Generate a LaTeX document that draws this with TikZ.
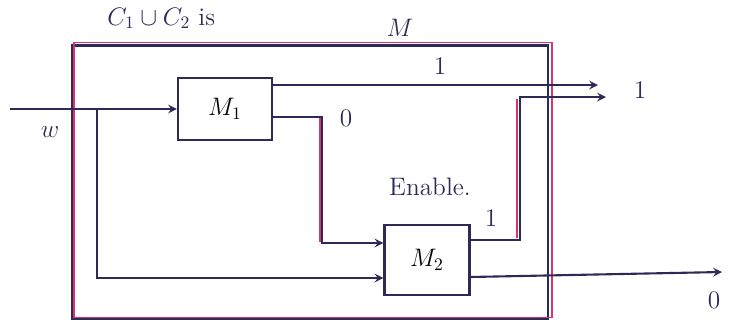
\documentclass[tikz,border=0pt]{standalone}
\usetikzlibrary{positioning,calc}

\definecolor{ink}{RGB}{45,42,85}
\definecolor{marker}{RGB}{214,52,112}

\tikzset{
    wire/.style={ink, very thick},
    trace/.style={marker, thick},
    blk/.style={draw=ink, very thick, fill=white, font=\Large},
    lbl/.style={ink, font=\Large}
}

\begin{document}
\begin{tikzpicture}[x=0.02cm, y=-0.02cm, >=stealth]

    \useasboundingbox (0,0) rectangle (748,325);

    % Texte en haut de la page
    \node[lbl, anchor=base west, inner sep=0pt] (cap) at (107,25) {$C_1 \cup C_2$ is};

    % Machine globale M
    \node[draw=ink, very thick, minimum width=9.52cm, minimum height=5.46cm] (mach) at (310,182) {};
    \draw[trace] ([shift={(3,-2)}]mach.north west) rectangle ([shift={(3,-2)}]mach.south east);
    \node[lbl] (mname) at (400,28) {$M$};

    % Sous-machines
    \node[blk, minimum width=1.88cm, minimum height=1.24cm] (m1) at (225,109) {$M_1$};
    \node[blk, minimum width=1.7cm, minimum height=1.4cm] (m2) at (427,260) {$M_2$};

    % Entrée w et sa copie vers M2
    \coordinate (win) at (10,109);
    \coordinate (split) at (97,109);
    \draw[wire, ->] (win) -- (m1.west);
    \draw[wire, ->] (split) |- ($(m2.west)+(0,18)$);
    \node[lbl] (wlbl) at (50,132) {$w$};

    % Sortie 1 de M1
    \coordinate (out1) at (598,85);
    \draw[wire, ->] (m1.east |- out1) -- (out1);
    \node[lbl] (one1) at (440,66) {$1$};

    % Sortie 0 de M1 : active M2
    \coordinate (turn) at (322,180);
    \draw[wire, ->] ($(m1.east)+(0,8)$) -| (turn) |- ($(m2.west)+(0,-17)$);
    \draw[trace] ($(turn)+(-2,-62)$) -- ($(turn)+(-2,62)$);
    \node[lbl] (zero1) at (346,118) {$0$};
    \node[lbl] (enable) at (430,187) {Enable.};

    % Sortie 1 de M2
    \coordinate (join) at (520,97);
    \coordinate (out2) at (606,97);
    \draw[wire, ->] ($(m2.east)+(0,-20)$) -| (join) -- (out2);
    \draw[trace] (517,99) -- (517,238);
    \node[lbl] (one2) at (491,218) {$1$};
    \node[lbl] (one) at (640,90) {$1$};

    % Sortie 0 de M2
    \coordinate (out3) at (722,272);
    \draw[wire, ->] ($(m2.east)+(0,17)$) -- (out3);
    \node[lbl] (zero2) at (714,300) {$0$};

\end{tikzpicture}
\end{document}
